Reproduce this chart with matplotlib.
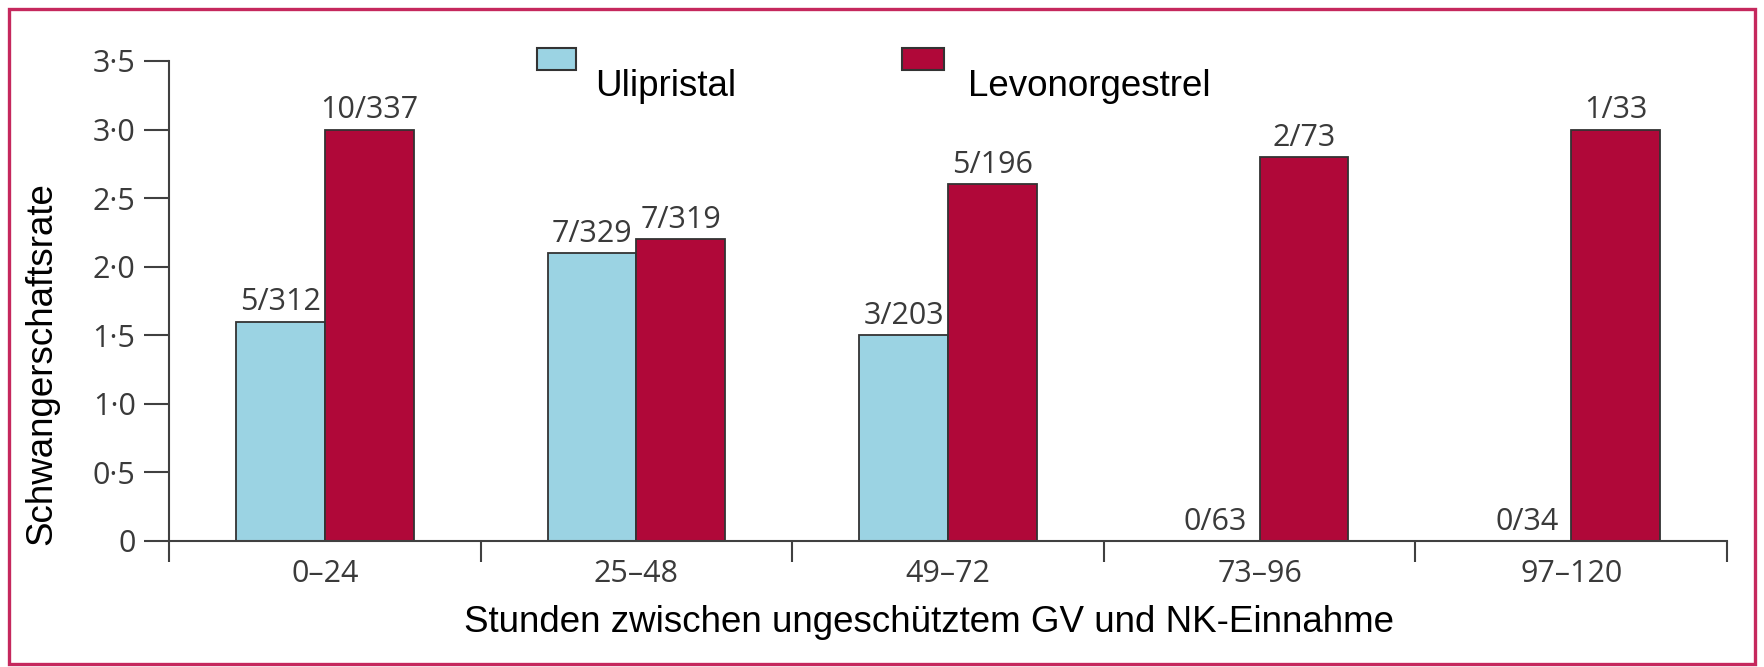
import matplotlib
matplotlib.use('Agg')
import matplotlib.pyplot as plt
from matplotlib.patches import Rectangle
import numpy as np

categories = ['0–24', '25–48', '49–72', '73–96', '97–120']
ulipristal = [1.6, 2.1, 1.5, 0.0, 0.0]
levonorgestrel = [3.0, 2.2, 2.6, 2.8, 3.0]
ulipristal_labels = ['5/312', '7/329', '3/203', '0/63', '0/34']
levonorgestrel_labels = ['10/337', '7/319', '5/196', '2/73', '1/33']
y_ticks = [0, 0.5, 1.0, 1.5, 2.0, 2.5, 3.0, 3.5]
y_ticklabels = ['0', '0·5', '1·0', '1·5', '2·0', '2·5', '3·0', '3·5']
series_names = ['Ulipristal', 'Levonorgestrel']
ylabel = 'Schwangerschaftsrate'
xlabel = 'Stunden zwischen ungeschütztem GV und NK-Einnahme'

BLUE = '#9BD3E3'
RED = '#B00839'
EDGE = '#333333'
AXC = '#404040'
TXT = '#3a3a3a'
W, H = 1764, 667

fig = plt.figure(figsize=(W / 100, H / 100), dpi=100)
ax = fig.add_axes([169 / W, 1 - 541 / H, (1727 - 169) / W, (541 - 61) / H])

x = np.arange(len(categories))
bw = 0.285
b1 = ax.bar(x - bw / 2, ulipristal, bw, color=BLUE, edgecolor=EDGE, linewidth=1.3, zorder=2)
b2 = ax.bar(x + bw / 2, levonorgestrel, bw, color=RED, edgecolor=EDGE, linewidth=1.3, zorder=2)

small = ['Open Sans', 'DejaVu Sans']
lab_font = dict(family=small, size=22, color=TXT)
ax.bar_label(b1, labels=ulipristal_labels, padding=3, **lab_font)
ax.bar_label(b2, labels=levonorgestrel_labels, padding=3, **lab_font)

ax.set_xlim(-0.5, len(categories) - 0.5)
ax.set_ylim(0, 3.5)
ax.set_yticks(y_ticks)
ax.set_yticklabels(y_ticklabels, fontfamily=small, fontsize=22, color=TXT)
ax.set_xticks(x)
ax.set_xticklabels(categories, fontfamily=small, fontsize=22, color=TXT)
ax.set_xticks(np.arange(-0.5, len(categories), 1), minor=True)
ax.tick_params(axis='x', which='major', length=0, pad=13)
ax.tick_params(axis='x', which='minor', length=15, width=1.5, color=AXC, direction='out')
ax.tick_params(axis='y', which='major', length=18, width=1.5, color=AXC, pad=6)

for s in ['top', 'right']:
    ax.spines[s].set_visible(False)
for s in ['left', 'bottom']:
    ax.spines[s].set_color(AXC)
    ax.spines[s].set_linewidth(1.5)

arial = ['Liberation Sans', 'DejaVu Sans']
fig.text(42 / W, 1 - 364 / H, ylabel, rotation=90, ha='center', va='center',
         family=arial, fontsize=26.5, color='black')
fig.text(929 / W, 1 - 623 / H, xlabel, ha='center', va='center',
         family=arial, fontsize=26.5, color='black')

# legend
for (x0, x1), col, name, tx in [((537, 576), BLUE, series_names[0], 595),
                                 ((902, 944), RED, series_names[1], 968)]:
    fig.patches.append(Rectangle((x0 / W, 1 - 70 / H), (x1 - x0) / W, 22 / H,
                                 transform=fig.transFigure, facecolor=col,
                                 edgecolor=EDGE, linewidth=1.5))
    fig.text(tx / W, 1 - 86 / H, name, ha='left', va='center',
             family=arial, fontsize=26.5, color='black')

# border
fig.patches.append(Rectangle((9 / W, 1 - 664 / H), (1755 - 9) / W, (664 - 9) / H,
                             transform=fig.transFigure, facecolor='none',
                             edgecolor='#C5285D', linewidth=2.4))

fig.savefig('out.png', dpi=100)
